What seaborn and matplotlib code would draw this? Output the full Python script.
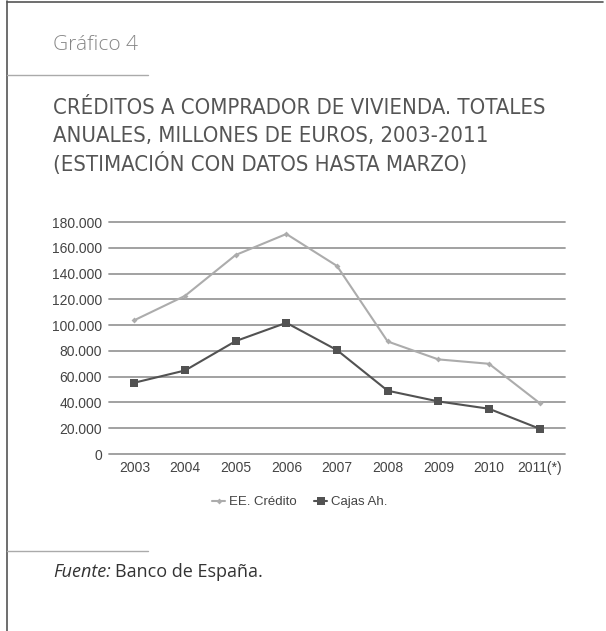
import matplotlib
matplotlib.use("Agg")
import matplotlib.pyplot as plt
import pandas as pd
import seaborn as sns
from matplotlib import font_manager
from matplotlib.lines import Line2D
from matplotlib.ticker import FuncFormatter

# data (millones de euros)
years = ["2003", "2004", "2005", "2006", "2007", "2008", "2009", "2010", "2011(*)"]
ee_credito = [103800, 122700, 154400, 170700, 145900, 87300, 73400, 70000, 39500]
cajas_ah = [55300, 64800, 87600, 101800, 80600, 49100, 40800, 35100, 19600]
series_names = ["EE. Crédito", "Cajas Ah."]
y_ticks = [0, 20000, 40000, 60000, 80000, 100000, 120000, 140000, 160000, 180000]

df = pd.DataFrame({
    "pos": list(range(len(years))) * 2,
    "valor": ee_credito + cajas_ah,
    "serie": [series_names[0]] * len(years) + [series_names[1]] * len(years),
})

sns.set_theme(style="white")
plt.rcParams["font.family"] = ["Liberation Sans", "DejaVu Sans"]

# condensed face for the title if installed
names = {f.name for f in font_manager.fontManager.ttflist}
if "DejaVu Sans Condensed" in names:
    title_font = dict(family="DejaVu Sans Condensed")
else:
    title_font = dict(family=["DejaVu Sans"], stretch="condensed")

fig = plt.figure(figsize=(6.06, 6.31), dpi=100)
W, H = 606, 631


def fx(px):
    return px / W


def fy(py):
    return 1 - py / H


# frame lines (left and top) and separators
fig.add_artist(Line2D([fx(7), fx(7)], [0, fy(1)], color="#555555", lw=1.2))
fig.add_artist(Line2D([fx(7), fx(603)], [fy(1.5), fy(1.5)], color="#555555", lw=1.2))
fig.add_artist(Line2D([fx(7), fx(148)], [fy(75), fy(75)], color="#aaaaaa", lw=1.0))
fig.add_artist(Line2D([fx(7), fx(148)], [fy(551), fy(551)], color="#aaaaaa", lw=1.0))

fig.text(fx(53), fy(45), "Gráfico 4", fontsize=15, color="#868686", va="center",
         family=["Open Sans", "DejaVu Sans"], fontweight="light")

title_lines = ["CRÉDITOS A COMPRADOR DE VIVIENDA. TOTALES",
               "ANUALES, MILLONES DE EUROS, 2003-2011",
               "(ESTIMACIÓN CON DATOS HASTA MARZO)"]
for i, line in enumerate(title_lines):
    fig.text(fx(53), fy(108 + 27.5 * i), line, fontsize=15.8, color="#555555",
             va="center", **title_font)

ax = fig.add_axes([fx(109), fy(454), fx(565) - fx(109), fy(222) - fy(454)])
palette = {series_names[0]: "#acacac", series_names[1]: "#525252"}
markers = {series_names[0]: "D", series_names[1]: "s"}
sizes = {series_names[0]: 3, series_names[1]: 5.5}
for name in series_names:
    sns.lineplot(data=df[df["serie"] == name], x="pos", y="valor", ax=ax,
                 color=palette[name], marker=markers[name], markersize=sizes[name],
                 markeredgewidth=0, lw=1.5, label=name, zorder=3)

ax.set_xlim(-0.5, len(years) - 0.5)
ax.set_ylim(0, 180000)
ax.set_yticks(y_ticks)
ax.yaxis.set_major_formatter(FuncFormatter(lambda v, p: f"{int(v):,}".replace(",", ".")))
ax.set_xticks(range(len(years)))
ax.set_xticklabels(years)
ax.set_xlabel("")
ax.set_ylabel("")
for s in ax.spines.values():
    s.set_visible(False)
ax.grid(False)
for t in y_ticks:
    ax.axhline(t, color="#9a9a9a", lw=1.3, zorder=1, clip_on=False)
ax.tick_params(axis="both", length=0, labelsize=10, labelcolor="#444444")
ax.tick_params(axis="y", pad=5)
ax.tick_params(axis="x", pad=5)

leg = ax.legend(loc="center", bbox_to_anchor=(fx(300), fy(502)), bbox_transform=fig.transFigure,
                ncol=2, frameon=False, fontsize=9.5, handlelength=1.0, columnspacing=1.3,
                handletextpad=0.3)
for txt in leg.get_texts():
    txt.set_color("#444444")

# source line, italic part then regular
r = fig.canvas.get_renderer()
t1 = fig.text(fx(53), fy(572), "Fuente:", fontsize=13, style="italic", color="#333333",
              va="center", family=["Open Sans", "DejaVu Sans"])
bb = t1.get_window_extent(renderer=r)
fig.text(bb.x1 / W + fx(4), fy(572), "Banco de España.", fontsize=13, color="#333333",
         va="center", family=["Open Sans", "DejaVu Sans"])

fig.savefig("out.png", dpi=100)
